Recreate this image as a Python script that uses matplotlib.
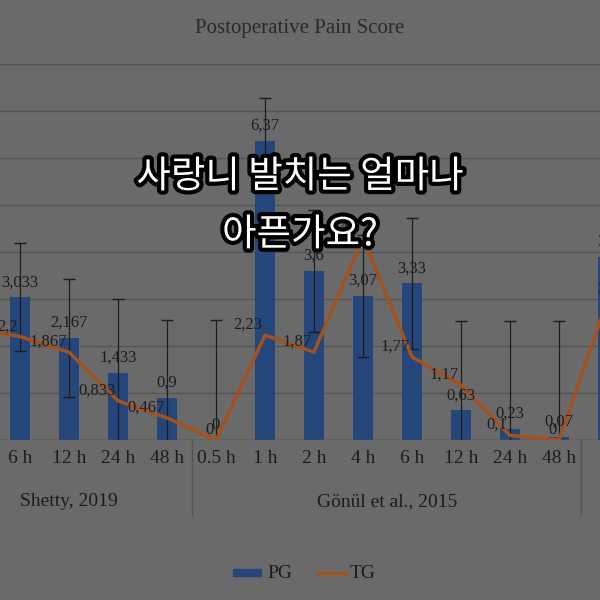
import matplotlib
matplotlib.use("Agg")
import matplotlib.pyplot as plt
import matplotlib.patheffects as pe

categories = ["", "6 h", "12 h", "24 h", "48 h", "0.5 h", "1 h", "2 h", "4 h", "6 h", "12 h", "24 h", "48 h", "4 h"]
pg = [None, 3.033, 2.167, 1.433, 0.9, 0, 6.37, 3.6, 3.07, 3.33, 0.63, 0.23, 0.07, 3.9]
pg_err = [None, 1.15, 1.25, 1.57, 1.65, 2.55, 0.9, 1.3, 1.3, 1.4, 1.9, 2.3, 2.46, 1.0]
tg = [2.4, 2.2, 1.867, 0.833, 0.467, 0, 2.23, 1.87, 4.3, 1.77, 1.17, 0.1, 0, 3.0]
pg_labels = ["", "3,033", "2,167", "1,433", "0,9", "0", "6,37", "3,6", "3,07", "3,33", "0,63", "0,23", "0,07", "3,9"]
tg_labels = ["2,4", "2,2", "1,867", "0,833", "0,467", "0", "2,23", "1,87", "4,3", "1,77", "1,17", "0,1", "0", "3"]
groups = ["Shetty, 2019", "Gönül et al., 2015"]

bg = "#6a6a6a"
txt = "#1c1c1c"
serif = "Liberation Serif"
fig = plt.figure(figsize=(6, 6), dpi=100, facecolor=bg)
ax = fig.add_axes([0, 160/600, 1, 376/600], facecolor=bg)
xs = list(range(len(categories)))
for i in xs:
    if pg[i] is not None:
        ax.bar(i, pg[i], width=0.42, color="#25467a", zorder=2)
        ax.errorbar(i, pg[i], yerr=pg_err[i], color=txt, lw=0.9, capsize=4, zorder=3)
        ax.text(i, pg[i] + 0.15, pg_labels[i], ha="center", va="bottom", color=txt,
                fontsize=12, family=serif, zorder=4)
ax.plot(xs, tg, color="#a3511f", lw=2.5, zorder=3)
for i in xs:
    ax.text(i - 0.05, tg[i] + 0.05, tg_labels[i], ha="right", va="bottom", color=txt,
            fontsize=12, family=serif, zorder=4)
ax.set_yticks(range(0, 9))
ax.yaxis.grid(True, color="#555555", lw=1)
ax.set_axisbelow(True)
ax.tick_params(left=False, labelleft=False, bottom=False)
ax.set_xticks(xs)
ax.set_xticklabels(categories, family=serif, fontsize=14, color=txt)
for s in ax.spines.values():
    s.set_visible(False)
ax.axhline(0, color="#555555", lw=1)
for xb in [4.5, 12.45]:
    ax.plot([xb, xb], [0, -1.6], color="#555555", lw=1, clip_on=False)
ax.text(2.0, -1.4, groups[0], ha="center", color=txt, fontsize=14, family=serif)
ax.text(8.5, -1.4, groups[1], ha="center", color=txt, fontsize=14, family=serif)
ax.set_xlim(0.59, 12.84)
ax.set_ylim(0, 8)

fig.text(0.5, 0.953, "Postoperative Pain Score", ha="center", va="center", color="#2a2a2a",
         fontsize=15, family=serif)
fig.patches.append(plt.Rectangle((233/600, 1-576/600), 28/600, 7/600, transform=fig.transFigure, color="#25467a"))
fig.lines.append(plt.Line2D([318/600, 346/600], [1-573/600]*2, transform=fig.transFigure, color="#a3511f", lw=2.5))
fig.text(267/600, 1-573/600, "PG", va="center", color=txt, fontsize=14, family=serif)
fig.text(350/600, 1-573/600, "TG", va="center", color=txt, fontsize=14, family=serif)

eff = [pe.withStroke(linewidth=6, foreground="black")]
fig.text(0.5, 1-177/600, "사랑니 발치는 얼마나", ha="center", va="center", color="white", fontsize=27,
         family=["Noto Sans CJK KR", "DejaVu Sans"], path_effects=eff)
fig.text(0.5, 1-235/600, "아픈가요?", ha="center", va="center", color="white", fontsize=27,
         family=["Noto Sans CJK KR", "DejaVu Sans"], path_effects=eff)
fig.savefig("out.png", dpi=100, facecolor=bg)
